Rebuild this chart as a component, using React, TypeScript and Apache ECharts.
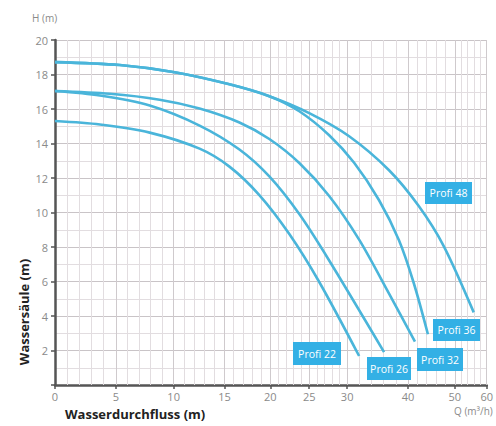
import React, { useEffect, useRef } from "react";
import * as echarts from "echarts";

// Axis ticks of the (non-linear) flow axis and their relative positions (0..100)
const Q_TICKS = [0, 5, 10, 15, 20, 25, 30, 40, 50, 60];
const Q_TICK_POS = [0, 14.09, 27.48, 39.26, 49.88, 58.89, 67.67, 81.76, 92.61, 100];

const H_MAX = 20;

// Pump curves: flow Q (m³/h) and head H (m)
const PROFI22_Q = [0, 3.69, 7.93, 12.55, 15.54, 18.8, 22.44, 26.32, 31.97];
const PROFI22_H = [15.3, 15.1, 14.63, 13.7, 12.66, 11.01, 8.75, 5.97, 1.68];

const PROFI26_Q = [0, 3.69, 7.93, 12.55, 16.63, 19.89, 23.72, 27.63, 36.07];
const PROFI26_H = [17.04, 16.78, 16.2, 15.04, 13.65, 12.09, 9.91, 7.22, 1.91];

const PROFI32_Q = [0, 4.51, 8.79, 12.55, 16.63, 19.89, 23.72, 27.63, 31.97, 36.89, 41.49];
const PROFI32_H = [17.04, 16.88, 16.54, 16.03, 15.22, 14.26, 12.87, 10.96, 8.43, 5.3, 2.52];

const PROFI36_Q = [0, 5.34, 10.1, 15.54, 19.89, 23.72, 27.63, 31.15, 35.25, 38.52, 41.28, 44.26];
const PROFI36_H = [18.72, 18.55, 18.13, 17.43, 16.74, 15.87, 14.48, 12.88, 10.71, 8.39, 5.87, 2.94];

const PROFI48_Q = [0, 5.34, 10.1, 15.54, 19.89, 25.0, 30.33, 36.89, 42.34, 47.66, 55.94];
const PROFI48_H = [18.72, 18.55, 18.13, 17.43, 16.74, 15.76, 14.42, 12.45, 10.36, 8.04, 4.21];

const SERIES_NAMES = ["Profi 22", "Profi 26", "Profi 32", "Profi 36", "Profi 48"];

// vertical grid lines (flow values)
const GRID_Q_MINOR: number[] = [];
for (let q = 1; q < 30; q++) GRID_Q_MINOR.push(q);
for (let q = 32; q <= 60; q += 2) GRID_Q_MINOR.push(q);

function warp(q: number): number {
  for (let i = 0; i < Q_TICKS.length - 1; i++) {
    if (q <= Q_TICKS[i + 1]) {
      const t = (q - Q_TICKS[i]) / (Q_TICKS[i + 1] - Q_TICKS[i]);
      return Q_TICK_POS[i] + t * (Q_TICK_POS[i + 1] - Q_TICK_POS[i]);
    }
  }
  return 100;
}

function tickLabel(u: number): string {
  for (let i = 0; i < Q_TICK_POS.length; i++) {
    if (Math.abs(Q_TICK_POS[i] - u) < 0.01) return String(Q_TICKS[i]);
  }
  return "";
}

const CURVE_COLOR = "#4ab5da";
const BOX_COLOR = "#33b0e5";

function makeLine(name: string, qs: number[], hs: number[]) {
  return {
    name,
    type: "line",
    smooth: 0.3,
    showSymbol: false,
    symbol: "none",
    z: 5,
    lineStyle: { color: CURVE_COLOR, width: 2.6 },
    data: qs.map((q, i) => [warp(q), hs[i]]),
  };
}

function labelBox(text: string, x: number, y: number, w: number, h: number) {
  return [
    { type: "rect", z: 100, shape: { x, y, width: w, height: h }, style: { fill: BOX_COLOR } },
    {
      type: "text",
      z: 101,
      x: x + w / 2,
      y: y + h / 2,
      style: {
        text,
        fill: "#ffffff",
        fontSize: 10.5,
        fontFamily: "Open Sans",
        align: "center",
        verticalAlign: "middle",
      },
    },
  ];
}

export default function App() {
  const ref = useRef<HTMLDivElement>(null);
  useEffect(() => {
    if (!ref.current) return;
    const chart = echarts.init(ref.current, undefined, { renderer: "svg" });
    const tickPosMajor = Q_TICK_POS.slice(1);
    chart.setOption({
      animation: false,
      backgroundColor: "#ffffff",
      grid: { left: 55, right: 8, top: 40, bottom: 41, containLabel: false },
      xAxis: {
        type: "value",
        min: 0,
        max: 100,
        axisLine: { show: true, lineStyle: { color: "#555555", width: 2.5 } },
        axisTick: { show: true, customValues: Q_TICK_POS, length: 4, lineStyle: { color: "#555555", width: 1.5 } },
        axisLabel: {
          customValues: Q_TICK_POS,
          formatter: (v: number) => tickLabel(v),
          color: "#8a8a8a",
          fontSize: 11,
          fontFamily: "Open Sans",
          margin: 6,
        },
        splitLine: { show: false },
      },
      yAxis: {
        type: "value",
        min: 0,
        max: H_MAX,
        interval: 2,
        axisLine: { show: true, lineStyle: { color: "#555555", width: 2.5 } },
        axisTick: { show: true, length: 4, lineStyle: { color: "#555555", width: 1.5 } },
        axisLabel: {
          formatter: (v: number) => (v === 0 ? "" : String(v)),
          color: "#8a8a8a",
          fontSize: 11,
          fontFamily: "Open Sans",
          margin: 7,
        },
        splitLine: { show: true, lineStyle: { color: "#c9c4c7", width: 1 } },
        minorTick: { show: false, splitNumber: 2 },
        minorSplitLine: { show: true, lineStyle: { color: "#e2dde0", width: 1 } },
      },
      series: [
        {
          type: "line",
          name: "grid",
          data: [[0, 0]],
          showSymbol: false,
          symbol: "none",
          lineStyle: { opacity: 0 },
          z: 1,
          silent: true,
          markLine: {
            silent: true,
            symbol: ["none", "none"],
            label: { show: false },
            animation: false,
            data: [
              ...GRID_Q_MINOR.map((q) => ({
                xAxis: warp(q),
                lineStyle: { color: "#e2dde0", width: 1, type: "solid" },
              })),
              ...tickPosMajor.map((u) => ({
                xAxis: u,
                lineStyle: { color: "#cfcacd", width: 1, type: "solid" },
              })),
            ],
          },
        },
        makeLine(SERIES_NAMES[0], PROFI22_Q, PROFI22_H),
        makeLine(SERIES_NAMES[1], PROFI26_Q, PROFI26_H),
        makeLine(SERIES_NAMES[2], PROFI32_Q, PROFI32_H),
        makeLine(SERIES_NAMES[3], PROFI36_Q, PROFI36_H),
        makeLine(SERIES_NAMES[4], PROFI48_Q, PROFI48_H),
      ],
      graphic: [
        {
          type: "text",
          x: 32,
          y: 13,
          style: { text: "H (m)", fill: "#8a8a8a", fontSize: 10, fontFamily: "Open Sans" },
        },
        {
          type: "text",
          x: 454,
          y: 406,
          style: { text: "Q (m³/h)", fill: "#8a8a8a", fontSize: 10, fontFamily: "Open Sans" },
        },
        {
          type: "text",
          x: 24,
          y: 312,
          rotation: Math.PI / 2,
          style: {
            text: "Wassersäule (m)",
            fill: "#222222",
            fontSize: 13,
            fontWeight: "bold",
            fontFamily: "Open Sans",
            align: "center",
            verticalAlign: "middle",
          },
        },
        {
          type: "text",
          x: 65,
          y: 407,
          style: {
            text: "Wasserdurchfluss (m)",
            fill: "#222222",
            fontSize: 13,
            fontWeight: "bold",
            fontFamily: "Open Sans",
          },
        },
        ...labelBox(SERIES_NAMES[4], 425, 182, 47, 22),
        ...labelBox(SERIES_NAMES[3], 433, 319, 47, 22),
        ...labelBox(SERIES_NAMES[2], 417, 348, 46, 23),
        ...labelBox(SERIES_NAMES[1], 367, 357, 44, 23),
        ...labelBox(SERIES_NAMES[0], 293, 342, 48, 23),
      ],
    });
    return () => chart.dispose();
  }, []);
  return <div ref={ref} style={{ width: 496, height: 426, position: "absolute", left: 0, top: 0 }} />;
}
